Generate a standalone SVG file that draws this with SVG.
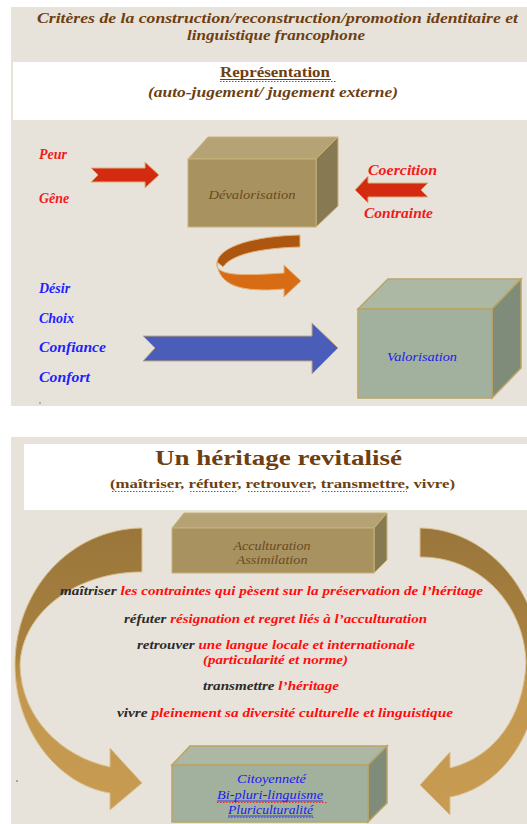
<svg xmlns="http://www.w3.org/2000/svg" width="527" height="824" viewBox="0 0 527 824">
<style>
  text { font-family: "Liberation Serif", "DejaVu Serif", serif; }
  .ttl { fill: #6e3f12; font-weight: bold; font-style: italic; font-size: 15px; }
  .hd { fill: #6e3f12; font-weight: bold; }
  .red { fill: #f21a1a; font-style: italic; font-weight: bold; font-size: 14px; }
  .blue { fill: #1f1fff; font-style: italic; font-weight: bold; font-size: 14px; }
  .box { fill: #6b4a22; font-style: italic; font-size: 13px; }
  .bbox { fill: #1a1aee; font-style: italic; font-size: 13px; }
  .ln { font-weight: bold; font-style: italic; font-size: 13.5px; }
  .dk { fill: #2b2b2b; }
  .rd { fill: #ff0d0d; }
  .sq { stroke: #e23030; stroke-width: 1; stroke-dasharray: 1.5 1.5; fill: none; }
  .tanF { fill: #a8925f; stroke: #c7b27a; stroke-width: 1; }
  .tanT { fill: #b6a375; stroke: #c7b27a; stroke-width: 1; }
  .tanS { fill: #877a52; stroke: #c7b27a; stroke-width: 1; }
  .grF { fill: #a2b19d; stroke: #b9a467; stroke-width: 1.5; }
  .grT { fill: #acb8a3; stroke: #b9a467; stroke-width: 1.5; }
  .grS { fill: #7f8c79; stroke: #b9a467; stroke-width: 1.5; }
  .redArr { fill: #d42a10; stroke: #d9b27a; stroke-width: 1; }
</style>
<defs>
  <linearGradient id="bigL" x1="0" y1="528" x2="0" y2="812" gradientUnits="userSpaceOnUse">
    <stop offset="0" stop-color="#9a763c"/>
    <stop offset="0.45" stop-color="#a9823f"/>
    <stop offset="0.55" stop-color="#c3974d"/>
    <stop offset="1" stop-color="#c89b52"/>
  </linearGradient>
</defs>

<!-- backgrounds -->
<rect x="11" y="7" width="516" height="399" fill="#e7e3da"/>
<rect x="13" y="62" width="514" height="58" fill="#ffffff"/>
<rect x="11" y="437" width="516" height="387" fill="#e7e3da"/>
<rect x="24" y="444" width="503" height="66" fill="#ffffff"/>

<!-- panel 1 headings -->
<g id="title1">
  <text class="ttl" x="37" y="23" textLength="481" lengthAdjust="spacingAndGlyphs">Critères de la construction/reconstruction/promotion identitaire et</text>
  <text class="ttl" x="187" y="40" textLength="178" lengthAdjust="spacingAndGlyphs">linguistique francophone</text>
</g>
<g id="representation">
  <text class="hd" x="220" y="77" font-size="14" textLength="110" lengthAdjust="spacingAndGlyphs">Représentation</text>
  <line x1="220" y1="79.5" x2="331" y2="79.5" stroke="#6e3f12" stroke-width="1"/>
  <path class="sq" d="M220,81.5 L336,81.5"/>
  <text class="hd" x="148" y="97" font-size="14" font-style="italic" textLength="250" lengthAdjust="spacingAndGlyphs">(auto-jugement/ jugement externe)</text>
</g>

<!-- connectors -->
<g id="connectors">
  <path id="arr-peur" class="redArr" d="M91,168 L145,168 L145,162 L159,175 L145,188 L145,182 L91,182 L98,175 Z"/>
  <path id="arr-coercition" class="redArr" d="M428,183 L368,183 L368,176 L355,190 L368,203 L368,197 L428,197 L421,190 Z"/>
  <g id="arr-curl" stroke="#e4b37a" stroke-width="1">
    <path fill="#ad560f" d="M300,235 L300,247 C262,248 232,254 223,267 L217,262 C220,246 255,236 300,235 Z"/>
    <path fill="#d86c14" d="M217,262 C214,276 240,276 284,273 L284,265 L301,281 L284,297 L284,289 C240,293 218,285 217,262 Z"/>
  </g>
  <path id="arr-desir" fill="#4a5db8" stroke="#c9a96e" stroke-width="1" d="M143,336 L312,336 L312,323 L338,348 L312,374 L312,361 L143,361 L155,348 Z"/>
  <path id="arr-left" fill="url(#bigL)" stroke="#d9c08c" stroke-width="1" d="M142,528 C70,529 15,590 15,665 C15,730 58,785 110,793 L110,810 L142,783 L110,748 L110,767 C62,757 21,718 20,665 C22,612 76,572 142,572 Z"/>
  <path id="arr-right" fill="url(#bigL)" stroke="#d9c08c" stroke-width="1" d="M420,528 C486,529 540,590 540,662 C540,735 500,788 450,797 L450,815 L420,785 L450,752 L450,768 C495,757 524,716 526,662 C524,606 482,557 420,557 Z"/>
</g>

<!-- panel 1 labels -->
<g id="labels-neg">
  <text class="red" x="39" y="159">Peur</text>
  <text class="red" x="39" y="203">Gêne</text>
  <text class="red" x="368" y="175" textLength="69" lengthAdjust="spacingAndGlyphs">Coercition</text>
  <text class="red" x="364" y="218" textLength="69" lengthAdjust="spacingAndGlyphs">Contrainte</text>
</g>
<g id="labels-pos">
  <text class="blue" x="39" y="293">Désir</text>
  <text class="blue" x="39" y="323">Choix</text>
  <text class="blue" x="39" y="352" textLength="67" lengthAdjust="spacingAndGlyphs">Confiance</text>
  <text class="blue" x="39" y="382" textLength="51" lengthAdjust="spacingAndGlyphs">Confort</text>
  <circle cx="40" cy="403" r="0.7" fill="#555"/>
</g>

<g id="devalorisation">
  <polygon class="tanT" points="188,159 208,137 338,137 316,159"/>
  <polygon class="tanS" points="316,159 338,137 338,206 316,227"/>
  <rect class="tanF" x="188" y="159" width="128" height="68"/>
  <text class="box" x="252" y="199" text-anchor="middle" textLength="87" lengthAdjust="spacingAndGlyphs">Dévalorisation</text>
</g>

<g id="valorisation">
  <polygon class="grT" points="358,309 388,279 521,279 492,309"/>
  <polygon class="grS" points="492,309 521,279 521,368 492,398"/>
  <rect class="grF" x="358" y="309" width="134" height="89"/>
  <text class="bbox" x="422" y="361" text-anchor="middle" textLength="70" lengthAdjust="spacingAndGlyphs">Valorisation</text>
</g>

<!-- panel 2 -->
<g id="title2">
  <text class="hd" x="278.5" y="465" font-size="22" text-anchor="middle" textLength="247" lengthAdjust="spacingAndGlyphs">Un héritage revitalisé</text>
  <text class="hd" x="110" y="488" font-size="13.5" textLength="345" lengthAdjust="spacingAndGlyphs">(maîtriser, réfuter, retrouver, transmettre, vivre)</text>
  <path class="sq" d="M112,491.5 L175,491.5 M190,491.5 L238,491.5 M248,491.5 L310,491.5 M322,491.5 L407,491.5"/>
</g>

<g id="acculturation">
  <polygon class="tanT" points="172,528 184,513 387,513 374,528"/>
  <polygon class="tanS" points="374,528 387,513 387,560 374,573"/>
  <rect class="tanF" x="172" y="528" width="202" height="45"/>
  <text class="box" x="272" y="550" text-anchor="middle" textLength="77" lengthAdjust="spacingAndGlyphs">Acculturation</text>
  <text class="box" x="272" y="564" text-anchor="middle" textLength="71" lengthAdjust="spacingAndGlyphs">Assimilation</text>
</g>

<g id="verbs" class="ln">
  <text x="60" y="595" textLength="423" lengthAdjust="spacingAndGlyphs"><tspan class="dk">maîtriser </tspan><tspan class="rd">les contraintes qui pèsent sur la préservation de l’héritage</tspan></text>
  <text x="124" y="623" textLength="303" lengthAdjust="spacingAndGlyphs"><tspan class="dk">réfuter </tspan><tspan class="rd">résignation et regret liés à l’acculturation</tspan></text>
  <text x="137" y="649" font-size="13" textLength="278" lengthAdjust="spacingAndGlyphs"><tspan class="dk">retrouver </tspan><tspan class="rd">une langue locale et internationale</tspan></text>
  <text x="203" y="664" font-size="13" textLength="145" lengthAdjust="spacingAndGlyphs"><tspan class="rd">(particularité et norme)</tspan></text>
  <text x="203" y="690" textLength="136" lengthAdjust="spacingAndGlyphs"><tspan class="dk">transmettre </tspan><tspan class="rd">l’héritage</tspan></text>
  <text x="117" y="717" textLength="336" lengthAdjust="spacingAndGlyphs"><tspan class="dk">vivre </tspan><tspan class="rd">pleinement sa diversité culturelle et linguistique</tspan></text>
</g>

<g id="citoyennete">
  <polygon class="grT" points="172,765 190,746 387,746 368,765"/>
  <polygon class="grS" points="368,765 387,746 387,803 368,822"/>
  <rect class="grF" x="172" y="765" width="196" height="57"/>
  <text class="bbox" x="271.5" y="783" text-anchor="middle" textLength="69" lengthAdjust="spacingAndGlyphs">Citoyenneté</text>
  <text class="bbox" x="270" y="799" text-anchor="middle" textLength="106" lengthAdjust="spacingAndGlyphs">Bi-pluri-linguisme</text>
  <line x1="217" y1="801" x2="323" y2="801" stroke="#1a1aee" stroke-width="0.8"/>
  <path class="sq" d="M217,802.5 L327,802.5"/>
  <text class="bbox" x="270.5" y="814" text-anchor="middle" textLength="85" lengthAdjust="spacingAndGlyphs">Pluriculturalité</text>
  <line x1="228" y1="816" x2="313" y2="816" stroke="#1a1aee" stroke-width="0.8"/>
  <path class="sq" d="M228,817.5 L315,817.5"/>
</g>
<circle cx="17" cy="781" r="0.8" fill="#555"/>
</svg>
